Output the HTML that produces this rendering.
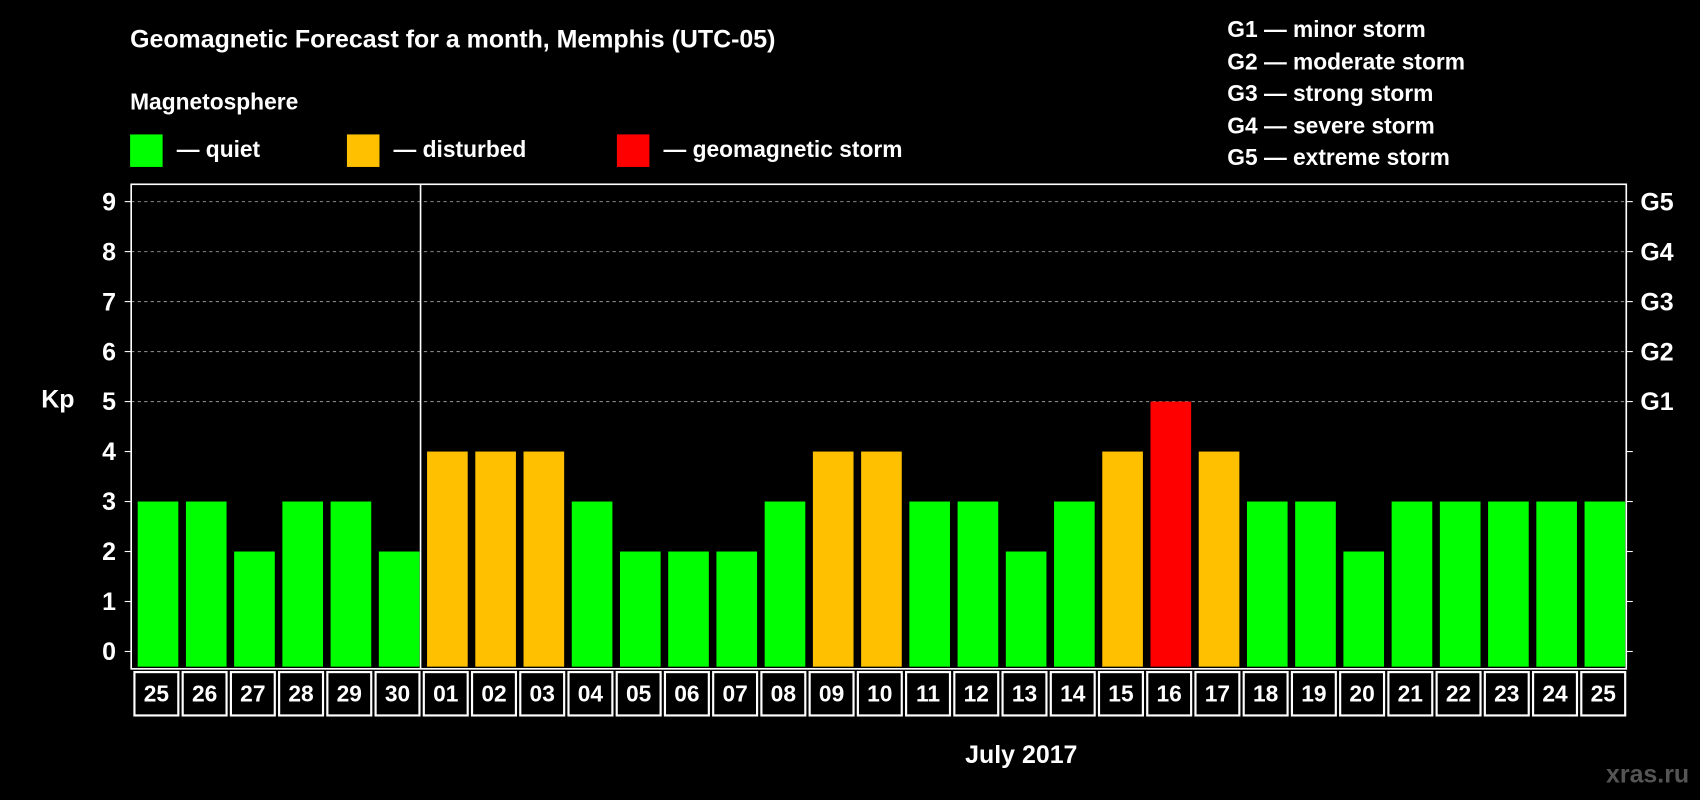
<!DOCTYPE html>
<html><head><meta charset="utf-8"><style>
html,body{margin:0;padding:0;background:#000;}
svg{display:block;}
text{font-family:"Liberation Sans",Arial,sans-serif;font-weight:bold;fill:#fff;}
</style></head><body>
<svg id="chart" width="1700" height="800" viewBox="0 0 1568 738" preserveAspectRatio="none" xmlns="http://www.w3.org/2000/svg">
<rect width="1568" height="738" fill="#000"/>
<text x="120" y="44" font-size="23">Geomagnetic Forecast for a month, Memphis (UTC-05)</text>
<text x="120" y="101" font-size="21">Magnetosphere</text>
<g><rect x="120" y="124" width="30" height="30" fill="#00ff00"/><text x="163" y="145" font-size="21">— quiet</text></g>
<g><rect x="320" y="124" width="30" height="30" fill="#ffc000"/><text x="363" y="145" font-size="21">— disturbed</text></g>
<g><rect x="569" y="124" width="30" height="30" fill="#ff0000"/><text x="612" y="145" font-size="21">— geomagnetic storm</text></g>
<g font-size="21">
<text x="1132" y="34">G1 — minor storm</text>
<text x="1132" y="64">G2 — moderate storm</text>
<text x="1132" y="93">G3 — strong storm</text>
<text x="1132" y="123">G4 — severe storm</text>
<text x="1132" y="152">G5 — extreme storm</text>
</g>
<text x="38" y="376" font-size="23">Kp</text>
<text x="942" y="704" font-size="23" text-anchor="middle">July 2017</text>
<text x="1558" y="722" font-size="23" text-anchor="end" style="fill:#555">xras.ru</text>
<g id="plot"></g>
</svg>
<script>
const days=["25","26","27","28","29","30","01","02","03","04","05","06","07","08","09","10","11","12","13","14","15","16","17","18","19","20","21","22","23","24","25"];
const kp=[3,3,2,3,3,2,4,4,4,3,2,2,2,3,4,4,3,3,2,3,4,5,4,3,3,2,3,3,3,3,3];
const yTicks=[0,1,2,3,4,5,6,7,8,9];
const gLabels=["G1","G2","G3","G4","G5"];
const NS="http://www.w3.org/2000/svg";
const L=121,R=1500,T=170,B=617,Y0=601,Y9=186;
const slot=(R-L)/days.length;
const y=v=>Y0-(Y0-Y9)*v/9;
const x=i=>L+slot*i;
const g=document.getElementById('plot');
function mk(tag,at){const e=document.createElementNS(NS,tag);for(const k in at)e.setAttribute(k,at[k]);g.appendChild(e);return e;}
yTicks.forEach(v=>{
  if(v>=5){const l=mk('line',{x1:L,x2:R,y1:y(v),y2:y(v),stroke:'#888','stroke-dasharray':'3,3'});
  
  }
  mk('line',{x1:L-6,x2:L,y1:y(v),y2:y(v),stroke:'#fff'});
  mk('line',{x1:R,x2:R+6,y1:y(v),y2:y(v),stroke:'#fff'});
  const t=mk('text',{x:L-14,y:y(v)+8,'font-size':23,'text-anchor':'end'});t.textContent=v;
  
  
});
gLabels.forEach((s,i)=>{const t=mk('text',{x:R+13,y:y(5+i)+8,'font-size':23});t.textContent=s;
  
  });
kp.forEach((v,i)=>{
  const c=v>=5?'#ff0000':(v>=4?'#ffc000':'#00ff00');
  const r=mk('rect',{x:x(i)+6,y:y(v),width:slot-7,height:Y0-y(v)+14,fill:c});
  
  
  const cell=mk('rect',{x:x(i)+3,y:620,width:slot-4,height:40,fill:'none',stroke:'#fff','stroke-width':2});
  
  
  const t=mk('text',{x:x(i)+slot/2+1,y:647,'font-size':21,'text-anchor':'middle'});t.textContent=days[i];
  
  
});
const fr=mk('rect',{x:L,y:T,width:R-L,height:B-T,fill:'none',stroke:'#fff','stroke-width':1.5});


const sep=mk('line',{x1:x(6),x2:x(6),y1:T,y2:B,stroke:'#fff','stroke-width':1.5});


</script>
</body></html>
